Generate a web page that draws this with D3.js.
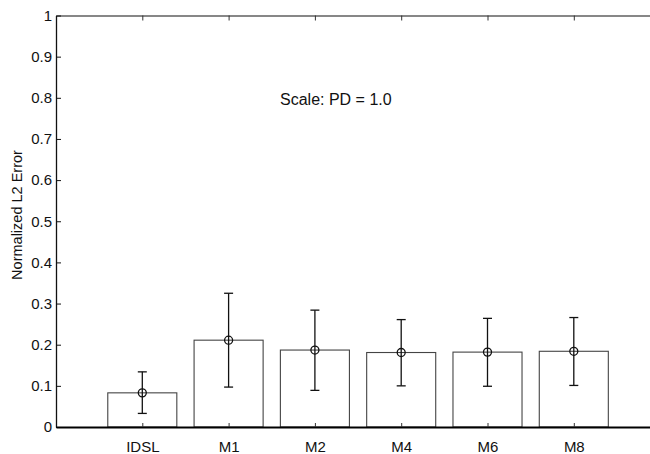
<!DOCTYPE html>
<html>
<head>
<meta charset="utf-8">
<script src="https://d3js.org/d3.v7.min.js"></script>
<style>
    body { margin: 0; background: #fff; }
    svg text { font-family: "Liberation Sans", Arial, Helvetica, sans-serif; fill: #111; }
</style>
</head>
<body>
<div id="chart"></div>
<script>
    var width = 650, height = 454;

    // values
    var methods = ['IDSL', 'M1', 'M2', 'M4', 'M6', 'M8'];
    var meanError = [0.083, 0.211, 0.187, 0.181, 0.182, 0.184];
    var errLow = [0.033, 0.097, 0.089, 0.100, 0.099, 0.101];
    var errHigh = [0.134, 0.325, 0.284, 0.261, 0.264, 0.266];
    var yTicks = [0, 0.1, 0.2, 0.3, 0.4, 0.5, 0.6, 0.7, 0.8, 0.9, 1];

    var plotLeft = 56, plotTop = 15.5, plotBottom = 427;
    var step = 86.3;

    var svg = d3.select('#chart').append('svg')
        .attr('width', width)
        .attr('height', height);

    // matlab style: bars at 1..n, x limits 0..n+1 (right part cut off)
    var xScale = d3.scaleLinear()
        .domain([0, methods.length + 1])
        .range([plotLeft, plotLeft + step * (methods.length + 1)]);
    var yScale = d3.scaleLinear()
        .domain([0, 1])
        .range([plotBottom, plotTop]);

    var barW = xScale(0.8) - xScale(0);

    var data = methods.map(function (m, i) {
        return { name: m, x: i + 1, v: meanError[i], lo: errLow[i], hi: errHigh[i] };
    });

    // bars
    svg.selectAll('rect.bar')
        .data(data)
        .enter()
        .append('rect')
        .attr('class', 'bar')
        .attr('x', function (d) { return xScale(d.x) - barW / 2; })
        .attr('y', function (d) { return yScale(d.v); })
        .attr('width', barW)
        .attr('height', function (d) { return yScale(0) - yScale(d.v); })
        .attr('fill', '#fff')
        .attr('stroke', '#444')
        .attr('stroke-width', 1.1);

    // y axis
    var yAxis = d3.axisLeft(yScale)
        .tickValues(yTicks)
        .tickFormat(d3.format('~g'))
        .tickSizeInner(-5)
        .tickSizeOuter(0)
        .tickPadding(4);

    var gy = svg.append('g')
        .attr('transform', 'translate(' + plotLeft + ',0)')
        .call(yAxis);
    gy.select('.domain').attr('stroke', '#111').attr('stroke-width', 1.3);
    gy.selectAll('.tick line').attr('stroke', '#111');
    gy.selectAll('.tick text').style('font-size', '15px').attr('fill', '#111');

    // top border with inward ticks
    var xTop = d3.axisTop(xScale)
        .tickValues(data.map(function (d) { return d.x; }))
        .tickFormat('')
        .tickSizeInner(-5)
        .tickSizeOuter(0);
    var gt = svg.append('g')
        .attr('transform', 'translate(0,' + plotTop + ')')
        .call(xTop);
    gt.select('.domain').attr('stroke', '#111').attr('stroke-width', 1.2);
    gt.selectAll('.tick line').attr('stroke', '#333');

    // bottom axis
    var xAxis = d3.axisBottom(xScale)
        .tickValues(data.map(function (d) { return d.x; }))
        .tickFormat(function (d) { return methods[d - 1]; })
        .tickSizeInner(-4)
        .tickSizeOuter(0)
        .tickPadding(14);
    var gx = svg.append('g')
        .attr('transform', 'translate(0,' + plotBottom + ')')
        .call(xAxis);
    gx.select('.domain').attr('stroke', '#000').attr('stroke-width', 2.2);
    gx.selectAll('.tick line').attr('stroke', '#333');
    gx.selectAll('.tick text').style('font-size', '15px').attr('fill', '#111');

    // error bars
    var cap = 4.5;
    var eb = svg.selectAll('g.err')
        .data(data)
        .enter()
        .append('g')
        .attr('class', 'err')
        .attr('stroke', '#111')
        .attr('stroke-width', 1.3)
        .attr('fill', 'none');
    eb.append('line')
        .attr('x1', function (d) { return xScale(d.x); })
        .attr('x2', function (d) { return xScale(d.x); })
        .attr('y1', function (d) { return yScale(d.lo); })
        .attr('y2', function (d) { return yScale(d.hi); });
    eb.append('line')
        .attr('x1', function (d) { return xScale(d.x) - cap; })
        .attr('x2', function (d) { return xScale(d.x) + cap; })
        .attr('y1', function (d) { return yScale(d.hi); })
        .attr('y2', function (d) { return yScale(d.hi); });
    eb.append('line')
        .attr('x1', function (d) { return xScale(d.x) - cap; })
        .attr('x2', function (d) { return xScale(d.x) + cap; })
        .attr('y1', function (d) { return yScale(d.lo); })
        .attr('y2', function (d) { return yScale(d.lo); });
    eb.append('circle')
        .attr('cx', function (d) { return xScale(d.x); })
        .attr('cy', function (d) { return yScale(d.v); })
        .attr('r', 4);

    // labels
    svg.append('text')
        .attr('transform', 'translate(22,' + 215 + ') rotate(-90)')
        .attr('text-anchor', 'middle')
        .style('font-size', '14.5px')
        .text('Normalized L2 Error');

    svg.append('text')
        .attr('x', 280)
        .attr('y', 105)
        .style('font-size', '16px')
        .text('Scale: PD = 1.0');
</script>
</body>
</html>
